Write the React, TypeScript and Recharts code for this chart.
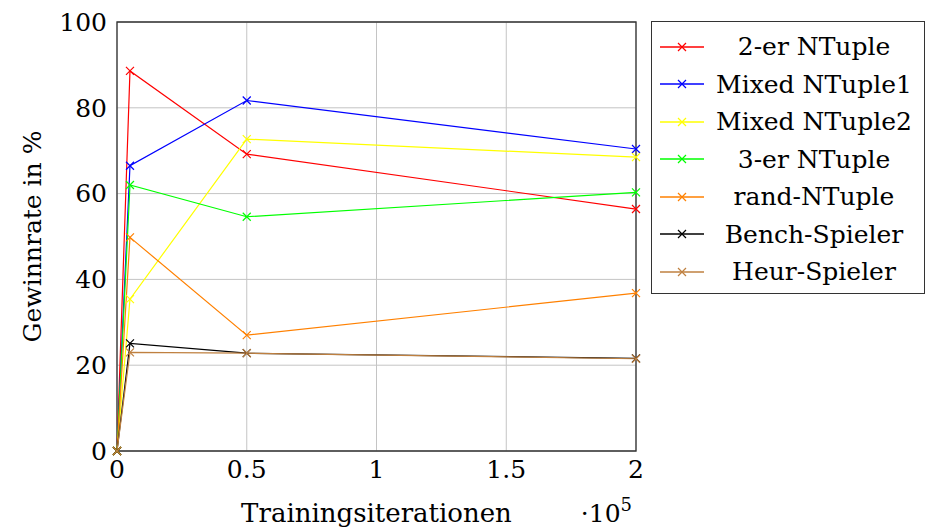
import React from "react";
import {
  LineChart, Line, XAxis, YAxis, CartesianGrid, ReferenceArea,
} from "recharts";

// Trainingsiterationen (x) und Gewinnrate in % je Spieler
const iterationen = [0, 5000, 50000, 200000];
const zweierNTuple = [0, 88.6, 69.2, 56.4];
const mixedNTuple1 = [0, 66.5, 81.7, 70.4];
const mixedNTuple2 = [0, 35.4, 72.7, 68.5];
const dreierNTuple = [0, 62.0, 54.6, 60.3];
const randNTuple = [0, 49.8, 27.0, 36.8];
const benchSpieler = [0, 25.1, 22.8, 21.6];
const heurSpieler = [0, 23.0, 22.8, 21.5];

const xTicks = [0, 50000, 100000, 150000, 200000];
const yTicks = [0, 20, 40, 60, 80, 100];

const SERIEN = [
  { key: "zweier", name: "2-er NTuple", color: "#ff0000", values: zweierNTuple },
  { key: "mixed1", name: "Mixed NTuple1", color: "#0000ff", values: mixedNTuple1 },
  { key: "mixed2", name: "Mixed NTuple2", color: "#ffff00", values: mixedNTuple2 },
  { key: "dreier", name: "3-er NTuple", color: "#00ff00", values: dreierNTuple },
  { key: "rand", name: "rand-NTuple", color: "#ff8000", values: randNTuple },
  { key: "bench", name: "Bench-Spieler", color: "#000000", values: benchSpieler },
  { key: "heur", name: "Heur-Spieler", color: "#bf8040", values: heurSpieler },
];

const daten = iterationen.map((it, i) => {
  const zeile: Record<string, number> = { it };
  SERIEN.forEach((s) => { zeile[s.key] = s.values[i]; });
  return zeile;
});

const FONT = "'DejaVu Serif', serif";

function kreuz(color: string) {
  return (props: any) => {
    const { cx, cy, index } = props;
    if (cx == null || cy == null) return <g key={index} />;
    const r = 4;
    return (
      <path
        key={index}
        d={`M${cx - r},${cy - r}L${cx + r},${cy + r}M${cx - r},${cy + r}L${cx + r},${cy - r}`}
        stroke={color}
        strokeWidth={1.2}
        fill="none"
      />
    );
  };
}

function XLabel(props: any) {
  const { x, y, width } = props.viewBox;
  return (
    <g fontFamily={FONT} fill="#000">
      <text x={x + width / 2} y={y + 71} textAnchor="middle" fontSize={26}>
        Trainingsiterationen
      </text>
      <text x={x + width - 4} y={y + 71} textAnchor="end" fontSize={25}>
        ·10<tspan dy={-11} fontSize={18}>5</tspan>
      </text>
    </g>
  );
}

function YLabel(props: any) {
  const { x, y, height } = props.viewBox;
  const cx = x + 32;
  const cy = y + height / 2;
  return (
    <text
      x={cx} y={cy}
      transform={`rotate(-90 ${cx} ${cy})`}
      textAnchor="middle"
      dominantBaseline="central"
      fontFamily={FONT}
      fontSize={25}
      fill="#000"
    >
      Gewinnrate in %
    </text>
  );
}

export default function App() {
  return (
    <div style={{ position: "absolute", left: 0, top: 0, width: 925, height: 529, background: "#fff", fontFamily: FONT }}>
      <LineChart width={925} height={529} data={daten} margin={{ top: 22, right: 289, bottom: 0, left: 0 }}>
        <CartesianGrid stroke="#c4c4c4" strokeWidth={1} ticks={undefined} />
        <XAxis
          dataKey="it"
          type="number"
          domain={[0, 200000]}
          ticks={xTicks}
          tickFormatter={(v: number) => String(v / 100000)}
          height={78}
          tickLine={false}
          axisLine={false}
          tickSize={0}
          tickMargin={9}
          tick={{ fontSize: 25, fill: "#000", fontFamily: FONT }}
          interval={0}
          label={<XLabel />}
        />
        <YAxis
          type="number"
          domain={[0, 100]}
          ticks={yTicks}
          width={117}
          tickLine={false}
          axisLine={false}
          tickSize={0}
          tickMargin={10}
          tick={{ fontSize: 25, fill: "#000", fontFamily: FONT }}
          interval={0}
          label={<YLabel />}
        />
        {SERIEN.map((s) => (
          <Line
            key={s.key}
            dataKey={s.key}
            name={s.name}
            type="linear"
            stroke={s.color}
            strokeWidth={1.2}
            dot={kreuz(s.color)}
            activeDot={false}
            isAnimationActive={false}
          />
        ))}
        <ReferenceArea x1={0} x2={200000} y1={0} y2={100} fill="none" stroke="#333" strokeWidth={1.3} />
      </LineChart>

      <div
        style={{
          position: "absolute", left: 651, top: 21, width: 274, height: 273,
          border: "1.3px solid #333", boxSizing: "border-box", paddingTop: 6,
        }}
      >
        {SERIEN.map((s) => (
          <div key={s.key} style={{ display: "flex", alignItems: "center", height: 37.5 }}>
            <svg width={56} height={20} style={{ flex: "none" }}>
              <line x1={8} y1={10} x2={52} y2={10} stroke={s.color} strokeWidth={1.3} />
              <path d="M26,6L34,14M26,14L34,6" stroke={s.color} strokeWidth={1.2} />
            </svg>
            <span style={{ flex: 1, textAlign: "center", fontSize: 25, lineHeight: "37.5px", color: "#000", paddingRight: 4 }}>
              {s.name}
            </span>
          </div>
        ))}
      </div>
    </div>
  );
}
